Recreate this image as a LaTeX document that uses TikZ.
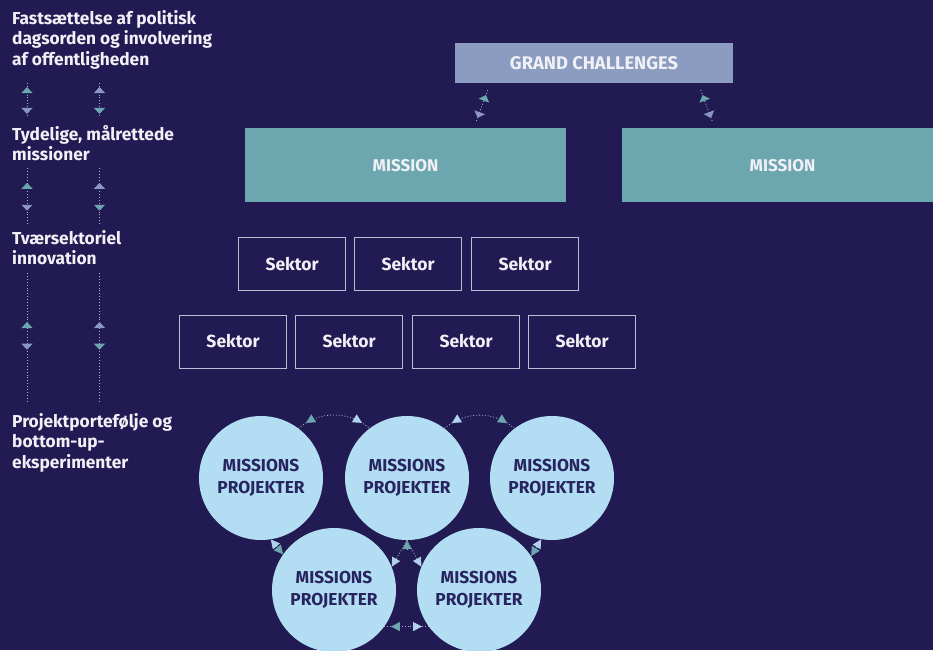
\documentclass[tikz,border=0pt]{standalone}
\usepackage{fontspec}
\setmainfont{Fira Sans}
\usetikzlibrary{arrows.meta,decorations.markings}
\definecolor{bgc}{RGB}{34,26,82}
\definecolor{gcc}{RGB}{139,156,192}
\definecolor{misc}{RGB}{108,166,174}
\definecolor{circc}{RGB}{178,221,242}
\definecolor{ctext}{RGB}{40,36,96}
\definecolor{sectb}{RGB}{190,188,210}
\definecolor{dotc}{RGB}{170,172,200}
\definecolor{tealc}{RGB}{108,166,174}
\definecolor{peric}{RGB}{139,150,196}
\definecolor{lightc}{RGB}{176,208,236}
\definecolor{txtc}{RGB}{240,240,246}
\tikzset{
  tT/.tip={Triangle[width=11pt,length=6pt,color=tealc]},
  tP/.tip={Triangle[width=11pt,length=6pt,color=peric]},
  tC/.tip={Triangle[width=9pt,length=9pt,color=tealc]},
  tL/.tip={Triangle[width=9pt,length=9pt,color=lightc]},
  lbl/.style={anchor=north west, inner sep=0pt, align=left, text=txtc,
    font=\bfseries\fontsize{17.3}{20.7}\selectfont},
  gcbox/.style={fill=gcc, minimum width=278pt, minimum height=40pt, inner sep=0pt,
    text depth=0pt, text=txtc, font=\bfseries\fontsize{18.3}{21}\selectfont},
  misbox/.style={fill=misc, minimum width=321pt, minimum height=74pt, inner sep=0pt,
    text depth=0pt, text=txtc, font=\bfseries\fontsize{17}{20}\selectfont},
  sekbox/.style={draw=sectb, line width=0.9pt, minimum width=107pt, minimum height=53pt,
    inner sep=0pt, text=txtc, font=\bfseries\fontsize{17.5}{20}\selectfont},
  proj/.style={circle, fill=circc, minimum size=124pt, inner sep=0pt, align=center,
    text=ctext, font=\bfseries\fontsize{17.3}{21.5}\selectfont},
  dlink/.style={draw=dotc, line width=0.9pt, dash pattern=on 0.9pt off 2pt},
  hd/.style n args={4}{postaction={decorate}, decoration={markings,
    mark=at position #1 with {\arrowreversed{#2}},
    mark=at position #3 with {\arrow{#4}}}}
}
\begin{document}
\begin{tikzpicture}[x=1pt,y=1pt]
\useasboundingbox[fill=bgc] (0,0) rectangle (933,-650);

% left column labels
\node[lbl] (l1) at (12,-10) {Fastsættelse af politisk\\dagsorden og involvering\\af offentligheden};
\node[lbl] (l2) at (12,-125) {Tydelige, målrettede\\missioner};
\node[lbl] (l3) at (12,-230) {Tværsektoriel\\innovation};
\node[lbl] (l4) at (12,-413) {Projektportefølje og\\bottom-up-\\eksperimenter};

% left column connectors
\coordinate (a1t) at (27,-83);  \coordinate (a1b) at (27,-117);
\coordinate (b1t) at (99.5,-83); \coordinate (b1b) at (99.5,-117);
\coordinate (a2t) at (27,-168); \coordinate (a2b) at (27,-225);
\coordinate (b2t) at (99.5,-168); \coordinate (b2b) at (99.5,-225);
\coordinate (a3t) at (27,-273); \coordinate (a3b) at (27,-403);
\coordinate (b3t) at (99.5,-273); \coordinate (b3b) at (99.5,-403);
\draw[dlink, hd={0.12}{tT}{0.91}{tP}] (a1t) -- (a1b);
\draw[dlink, hd={0.12}{tP}{0.91}{tT}] (b1t) -- (b1b);
\draw[dlink, hd={0.26}{tT}{0.75}{tP}] (a2t) -- (a2b);
\draw[dlink, hd={0.26}{tP}{0.75}{tT}] (b2t) -- (b2b);
\draw[dlink, hd={0.377}{tT}{0.59}{tP}] (a3t) -- (a3b);
\draw[dlink, hd={0.377}{tP}{0.59}{tT}] (b3t) -- (b3b);

% top
\node[gcbox] (gc) at (594,-63) {GRAND CHALLENGES};
\node[misbox] (m1) at (405.5,-165) {MISSION};
\node[misbox] (m2) at (782.5,-165) {MISSION};
\draw[dlink, hd={0.15}{tT}{0.85}{tP}] ([xshift=33pt,yshift=-7pt]gc.south west) -- ([xshift=231pt,yshift=5pt]m1.north west);
\draw[dlink, hd={0.15}{tT}{0.85}{tP}] ([xshift=246pt,yshift=-7pt]gc.south west) -- ([xshift=91pt,yshift=5pt]m2.north west);

% sectors
\node[sekbox] (s1) at (292,-264) {Sektor};
\node[sekbox] (s2) at (408,-264) {Sektor};
\node[sekbox] (s3) at (525,-264) {Sektor};
\node[sekbox] (s4) at (233,-341.5) {Sektor};
\node[sekbox] (s5) at (349,-341.5) {Sektor};
\node[sekbox] (s6) at (466,-341.5) {Sektor};
\node[sekbox] (s7) at (582,-341.5) {Sektor};

% project circles
\node[proj] (c1) at (261,-478) {MISSIONS\\PROJEKTER};
\node[proj] (c2) at (407,-478) {MISSIONS\\PROJEKTER};
\node[proj] (c3) at (552,-478) {MISSIONS\\PROJEKTER};
\node[proj] (c4) at (334,-590) {MISSIONS\\PROJEKTER};
\node[proj] (c5) at (479,-590) {MISSIONS\\PROJEKTER};

\draw[dlink, hd={0.12}{tC}{0.88}{tL}] (c1.53) to[out=40,in=140] (c2.127);
\draw[dlink, hd={0.12}{tL}{0.88}{tC}] (c2.53) to[out=40,in=140] (c3.127);
\draw[dlink, {tL}-{tC}] (c1.-81) -- (c4.145);
\draw[dlink, {tL}-{tC}] (c3.-100) -- (c5.33);
\draw[dlink, -{tL}] (c2.south) -- (c4.22);
\draw[dlink, -{tL}] (c2.south) -- (c5.158);
\draw[dlink, {tC}-] (c2.south) -- ++(0,-9);
\draw[dlink, hd={0.15}{tC}{0.85}{tL}] (c4.-36) -- (c5.-144);
\end{tikzpicture}
\end{document}
